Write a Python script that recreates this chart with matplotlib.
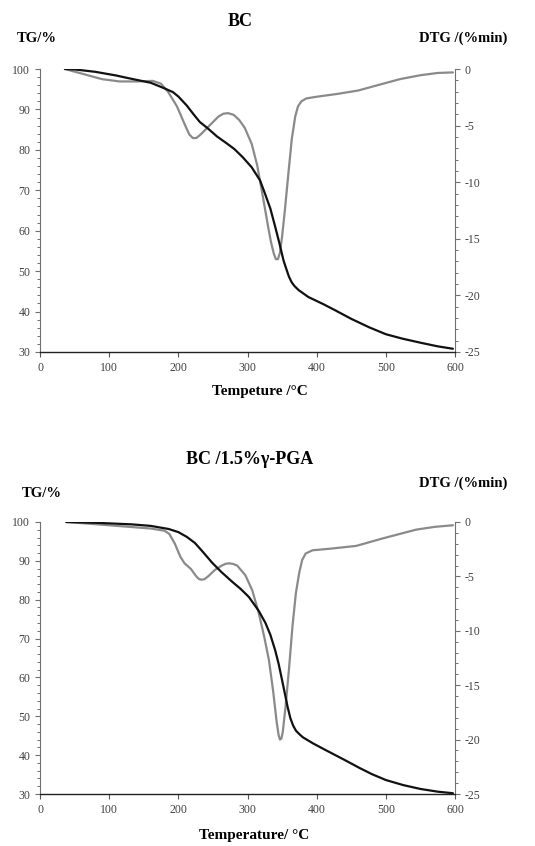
import matplotlib
matplotlib.use("Agg")
import matplotlib.pyplot as plt
from matplotlib.ticker import MultipleLocator

plt.rcParams['font.family'] = ['Liberation Serif', 'DejaVu Serif']
plt.rcParams['axes.unicode_minus'] = False

# ---- data: BC ----
bc_tg_T = [36, 50, 80, 110, 126, 140, 160, 173, 180, 192, 200, 212, 222, 231, 242, 256, 270, 281,
           293, 306, 318, 325, 333, 340, 346, 352, 356, 360, 364, 368, 374, 388, 410, 427, 450,
           476, 500, 524, 550, 575, 597]
bc_tg = [100, 99.9, 99.3, 98.4, 97.8, 97.3, 96.6, 95.7, 95.2, 94.3, 93.2, 91.0, 88.8, 86.9, 85.4,
         83.3, 81.6, 80.2, 78.2, 75.7, 72.5, 69.3, 65.5, 61.0, 57.0, 52.7, 50.6, 48.6, 47.2, 46.3,
         45.3, 43.6, 41.8, 40.3, 38.2, 36.1, 34.4, 33.3, 32.3, 31.4, 30.8]

bc_dtg_T = [36, 60, 90, 115, 140, 163, 175, 185, 198, 210, 216, 221, 226, 232, 245, 258, 265, 272,
            280, 288, 296, 306, 314, 322, 330, 334, 338, 341, 344, 347, 350, 354, 359, 364, 369,
            373, 378, 385, 400, 430, 460, 490, 520, 550, 575, 597]
bc_dtg = [0, -0.4, -0.9, -1.1, -1.1, -1.05, -1.3, -2.0, -3.3, -5.0, -5.8, -6.1, -6.1, -5.8, -5.0,
          -4.2, -3.95, -3.9, -4.05, -4.5, -5.2, -6.6, -8.5, -11.2, -14.0, -15.3, -16.3, -16.8,
          -16.8, -16.2, -14.8, -12.5, -9.3, -6.2, -4.2, -3.3, -2.85, -2.6, -2.45, -2.2, -1.9,
          -1.4, -0.9, -0.55, -0.35, -0.3]

# ---- data: BC / 1.5% gamma-PGA ----
pga_tg_T = [38, 80, 132, 160, 186, 200, 212, 224, 236, 249, 263, 278, 290, 302, 316, 326, 333, 340,
            345, 350, 355, 358, 362, 366, 370, 375, 380, 395, 413, 440, 462, 480, 500, 525, 550,
            575, 597]
pga_tg = [100, 99.8, 99.4, 99.0, 98.2, 97.4, 96.2, 94.6, 92.2, 89.5, 87.0, 84.6, 82.8, 80.7, 77.2,
          74.0, 71.0, 67.0, 63.5, 59.3, 55.0, 52.4, 49.5, 47.6, 46.3, 45.4, 44.6, 43.0, 41.3, 38.8,
          36.7, 35.1, 33.6, 32.3, 31.3, 30.6, 30.2]

pga_dtg_T = [38, 80, 120, 160, 180, 187, 195, 203, 209, 218, 226, 230, 234, 238, 243, 253, 263, 268,
             273, 279, 285, 297, 307, 316, 324, 331, 337, 342, 345, 347, 349, 351, 355, 360, 365,
             370, 375, 379, 384, 394, 420, 457, 496, 520, 544, 570, 597]
pga_dtg = [0, -0.2, -0.4, -0.6, -0.8, -1.1, -2.0, -3.2, -3.8, -4.3, -5.0, -5.25, -5.3, -5.25, -5.0,
           -4.4, -4.0, -3.85, -3.8, -3.85, -4.0, -4.9, -6.3, -8.3, -10.5, -12.7, -15.5, -18.3,
           -19.6, -20.0, -19.9, -19.3, -17.0, -13.5, -9.6, -6.5, -4.6, -3.5, -2.9, -2.6, -2.45,
           -2.2, -1.5, -1.1, -0.7, -0.45, -0.3]

x_ticks = [0, 100, 200, 300, 400, 500, 600]
tg_ticks = [30, 40, 50, 60, 70, 80, 90, 100]
dtg_ticks = [0, -5, -10, -15, -20, -25]

fig = plt.figure(figsize=(5.35, 8.46), dpi=100)

tick_col = '#404040'
spine_gray = '#707070'


def make_panel(rect, T1, tg, T2, dtg):
    ax = fig.add_axes(rect)
    ax2 = ax.twinx()
    ax2.plot(T2, dtg, color='#8a8a8a', lw=1.6, solid_capstyle='round', solid_joinstyle='round')
    ax.plot(T1, tg, color='#111111', lw=1.6, solid_capstyle='round', solid_joinstyle='round')
    ax.set_zorder(ax2.get_zorder() + 1)
    ax.patch.set_visible(False)
    ax.set_xlim(0, 600)
    ax.set_ylim(30, 100)
    ax2.set_ylim(-25, 0)
    ax.set_xticks(x_ticks)
    ax.set_yticks(tg_ticks)
    ax2.set_yticks(dtg_ticks)
    ax.yaxis.set_minor_locator(MultipleLocator(2))
    ax2.yaxis.set_minor_locator(MultipleLocator(1))
    for a in (ax, ax2):
        a.spines['top'].set_visible(False)
        a.tick_params(which='major', direction='out', length=3.5, width=0.8,
                      labelsize=8.5, labelcolor=tick_col, color=spine_gray)
        a.tick_params(which='minor', direction='out', length=2.2, width=0.7, color=spine_gray)
    ax.spines['right'].set_visible(False)
    ax.spines['left'].set_color(spine_gray)
    ax.spines['bottom'].set_color('#222222')
    ax.spines['bottom'].set_linewidth(1.0)
    ax2.spines['left'].set_visible(False)
    ax2.spines['bottom'].set_visible(False)
    ax2.spines['right'].set_color(spine_gray)
    ax.tick_params(axis='x', color='#555555', pad=4)
    return ax, ax2


W, H = 535.0, 846.0

def rect(x0, y_top, x1, y_bot):
    return [x0 / W, 1 - y_bot / H, (x1 - x0) / W, (y_bot - y_top) / H]

make_panel(rect(40, 69, 455, 352), bc_tg_T, bc_tg, bc_dtg_T, bc_dtg)
make_panel(rect(40, 522, 455, 794), pga_tg_T, pga_tg, pga_dtg_T, pga_dtg)

def ftext(x, y, s, size, **kw):
    fig.text(x / W, 1 - y / H, s, fontsize=size, fontweight='bold',
             ha='center', va='center', **kw)

ftext(240, 22, 'BC', 13)
ftext(37, 38, 'TG/%', 10.5)
ftext(463, 38, 'DTG /(%min)', 10.5)
ftext(260, 391, 'Tempeture /°C', 11)

ftext(250, 459, 'BC /1.5%γ-PGA', 13)
ftext(42, 493, 'TG/%', 10.5)
ftext(463, 483, 'DTG /(%min)', 10.5)
ftext(254, 835, 'Temperature/ °C', 11)

fig.savefig('out.png', dpi=100)
